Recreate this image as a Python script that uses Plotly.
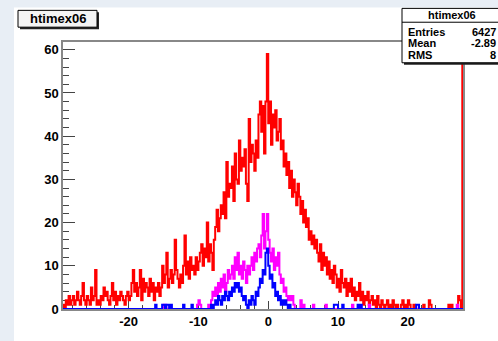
import numpy as np
import plotly.graph_objects as go

# ---- histogram definition -------------------------------------------------
X_MIN = -29.4
BIN_WIDTH = 0.2

# red histogram (all events), 287 bins
RED_COUNTS = [
    1, 0, 2, 1, 3, 1, 2, 3, 1, 2,
    4, 2, 1, 3, 6, 2, 1, 3, 2, 1,
    5, 2, 3, 9, 1, 2, 1, 3, 2, 5,
    3, 4, 2, 1, 3, 6, 2, 4, 1, 3,
    2, 4, 3, 2, 1, 3, 4, 2, 3, 6,
    9, 4, 6, 3, 5, 9, 2, 7, 4, 6,
    5, 3, 7, 4, 6, 2, 5, 4, 6, 3,
    5, 10, 6, 8, 13, 5, 7, 9, 6, 8,
    16, 9, 7, 5, 8, 6, 10, 17, 8, 11,
    7, 12, 9, 10, 8, 12, 9, 11, 13, 15,
    10, 14, 12, 20, 11, 15, 13, 9, 16, 19,
    23, 18, 21, 24, 22, 27, 21, 34, 26, 29,
    28, 33, 25, 36, 30, 29, 39, 32, 35, 33,
    37, 29, 25, 44, 34, 38, 36, 32, 39, 35,
    45, 48, 41, 47, 36, 48, 59, 43, 48, 38,
    45, 42, 46, 39, 41, 44, 37, 39, 33, 36,
    31, 34, 28, 32, 26, 30, 27, 24, 29, 26,
    22, 25, 20, 23, 19, 21, 16, 18, 15, 17,
    14, 16, 13, 11, 15, 9, 13, 10, 12, 8,
    11, 7, 9, 6, 10, 8, 5, 7, 4, 9,
    6, 5, 7, 3, 6, 4, 7, 3, 5, 2,
    4, 3, 6, 2, 4, 1, 3, 2, 4, 1,
    2, 3, 1, 2, 0, 3, 1, 0, 2, 1,
    0, 1, 2, 0, 1, 0, 2, 1, 0, 1,
    0, 0, 1, 2, 0, 1, 0, 2, 1, 0,
    0, 1, 0, 0, 0, 0, 0, 0, 1, 0,
    0, 0, 2, 1, 0, 0, 0, 0, 0, 0,
    0, 0, 0, 0, 0, 0, 1, 0, 1, 0,
    0, 0, 0, 3, 2, 0, 300,
]

MAGENTA_COUNTS = [
    0, 0, 0, 0, 0, 0, 0, 0, 0, 0,
    0, 0, 0, 0, 0, 0, 0, 0, 0, 0,
    0, 0, 0, 0, 0, 0, 0, 0, 0, 0,
    0, 0, 0, 0, 0, 0, 0, 0, 0, 0,
    0, 0, 0, 0, 0, 0, 0, 0, 0, 0,
    0, 0, 0, 0, 0, 0, 0, 0, 0, 0,
    0, 0, 0, 0, 0, 0, 0, 0, 0, 0,
    0, 0, 1, 1, 0, 0, 0, 0, 0, 0,
    0, 0, 0, 0, 0, 0, 0, 0, 0, 0,
    0, 0, 0, 0, 0, 0, 1, 2, 1, 0,
    0, 0, 0, 0, 1, 0, 2, 4, 3, 5,
    3, 6, 4, 7, 5, 8, 4, 6, 9, 7,
    8, 10, 7, 12, 9, 13, 8, 10, 7, 11,
    9, 6, 10, 8, 10, 12, 9, 13, 11, 14,
    15, 12, 17, 22, 14, 18, 22, 16, 13, 11,
    14, 9, 12, 10, 13, 8, 6, 7, 4, 5,
    3, 2, 3, 2, 3, 1, 0, 0, 0, 0,
    2, 0, 1, 0, 0, 0, 0, 0, 0, 1,
    0, 0, 0, 0, 0, 0, 0, 0, 1, 0,
    0, 0, 0, 0, 0, 0, 0, 0, 0, 0,
    0, 0, 0, 0, 0, 0, 0, 1, 0, 0,
    0, 0, 0, 0, 0, 0, 0, 0, 0, 1,
    0, 0, 0, 0, 0, 0, 0, 0, 0, 0,
    0, 0, 0, 0, 0, 0, 0, 0, 0, 0,
    0, 0, 0, 0, 0, 0, 0, 0, 0, 0,
    0, 0, 0, 0, 0, 0, 0, 0, 0, 0,
    0, 0, 0, 0, 0, 0, 0, 0, 0, 0,
    0, 0, 0, 0, 0, 0, 0, 0, 0, 0,
    0, 0, 1, 0, 0, 0, 0,
]

BLUE_COUNTS = [
    0, 0, 0, 0, 0, 0, 0, 0, 0, 0,
    0, 0, 0, 0, 0, 0, 0, 0, 0, 0,
    0, 0, 0, 0, 0, 0, 0, 0, 0, 0,
    0, 0, 0, 0, 0, 0, 0, 0, 0, 0,
    0, 0, 0, 0, 0, 0, 0, 0, 0, 0,
    0, 0, 0, 0, 0, 0, 0, 0, 0, 0,
    0, 0, 0, 0, 0, 0, 1, 0, 0, 0,
    0, 1, 1, 0, 1, 1, 0, 1, 0, 0,
    0, 0, 0, 0, 0, 0, 1, 0, 0, 0,
    0, 0, 1, 0, 0, 0, 0, 0, 0, 0,
    0, 0, 0, 0, 0, 0, 1, 0, 1, 2,
    1, 3, 2, 1, 3, 2, 4, 3, 2, 4,
    3, 5, 4, 6, 5, 6, 4, 5, 3, 2,
    3, 1, 0, 2, 1, 3, 2, 1, 4, 3,
    5, 7, 6, 9, 8, 13, 14, 10, 7, 8,
    5, 6, 3, 4, 2, 3, 1, 2, 1, 2,
    1, 0, 1, 0, 0, 0, 0, 0, 0, 0,
    0, 0, 0, 0, 0, 0, 0, 0, 0, 0,
    0, 0, 0, 0, 0, 0, 0, 0, 0, 0,
    0, 0, 0, 0, 1, 1, 1, 0, 0, 0,
    1, 0, 0, 0, 0, 0, 0, 0, 0, 0,
    0, 1, 0, 1, 0, 0, 0, 0, 0, 0,
    0, 0, 0, 0, 0, 0, 0, 0, 0, 0,
    0, 0, 0, 0, 0, 0, 0, 0, 0, 0,
    0, 0, 0, 0, 0, 0, 0, 0, 0, 0,
    0, 0, 0, 1, 1, 0, 0, 0, 0, 0,
    0, 0, 0, 0, 0, 0, 0, 0, 0, 0,
    0, 0, 0, 0, 0, 0, 0, 0, 0, 0,
    0, 0, 0, 0, 0, 0, 0,
]

X_TICKS = [-20, -10, 0, 10, 20]
Y_TICKS = [0, 10, 20, 30, 40, 50, 60]
X_RANGE = [-29.4, 27.9]
Y_RANGE = [0, 61.8]

TITLE = "htimex06"
STAT_LABELS = ["Entries", "Mean", "RMS"]
STAT_VALUES = ["6427", "-2.89", "8"]

# ---- figure ---------------------------------------------------------------
W, H = 498, 341
ML, MR, MT, MB = 63, 35, 42, 29
PW, PH = W - ML - MR, H - MT - MB


def px(x):
    return (x - ML) / PW


def py(y):
    return (H - MB - y) / PH


def step_trace(counts, color):
    n = len(counts)
    edges = X_MIN + BIN_WIDTH * np.arange(n + 1)
    xs = np.concatenate([[edges[0]], edges])
    ys = np.concatenate([[0], counts, [counts[-1]]])
    return go.Scatter(x=xs, y=ys, mode="lines", line=dict(color=color, width=2, shape="hv"),
                      hoverinfo="skip", showlegend=False)


fig = go.Figure()
fig.add_trace(step_trace(RED_COUNTS, "#ff0000"))
fig.add_trace(step_trace(MAGENTA_COUNTS, "#ff00ff"))
fig.add_trace(step_trace(BLUE_COUNTS, "#0000ff"))

font_b = dict(family="Liberation Sans, Arial, sans-serif", size=13, color="black", weight="bold")

fig.update_layout(
    width=W, height=H,
    margin=dict(l=ML, r=MR, t=MT, b=MB, pad=0),
    paper_bgcolor="#e8eef5",
    plot_bgcolor="white",
    showlegend=False,
    xaxis=dict(range=X_RANGE, tickvals=X_TICKS, ticktext=[str(v) for v in X_TICKS],
               ticks="inside", ticklen=8, tickwidth=1, tickcolor="#444",
               minor=dict(dtick=2, tick0=0, ticks="inside", ticklen=4, tickcolor="#444", showgrid=False),
               showgrid=False, zeroline=False, showline=True, linecolor="#888", linewidth=1.5, mirror=True,
               tickfont=font_b, layer="below traces"),
    yaxis=dict(range=Y_RANGE, tickvals=Y_TICKS, ticktext=[str(v) for v in Y_TICKS],
               ticks="inside", ticklen=12, tickwidth=1, tickcolor="#444",
               minor=dict(dtick=2, tick0=0, ticks="inside", ticklen=6, tickcolor="#444", showgrid=False),
               showgrid=False, zeroline=False, showline=True, linecolor="#888", linewidth=1.5, mirror=True,
               tickfont=font_b, layer="below traces"),
)

shapes = []
# white canvas area
shapes.append(dict(type="rect", xref="paper", yref="paper", x0=px(14), x1=px(520), y0=py(360), y1=py(7),
                   fillcolor="white", line=dict(width=0), layer="below"))
# title box shadow + box
shapes.append(dict(type="rect", xref="paper", yref="paper", x0=px(20), x1=px(99), y0=py(29), y1=py(12),
                   fillcolor="#222", line=dict(width=0), layer="above"))
shapes.append(dict(type="rect", xref="paper", yref="paper", x0=px(18), x1=px(97), y0=py(27), y1=py(10),
                   fillcolor="#f4f4f4", line=dict(color="black", width=1), layer="above"))
# stats box shadow + box
shapes.append(dict(type="rect", xref="paper", yref="paper", x0=px(404), x1=px(530), y0=py(65), y1=py(10),
                   fillcolor="#222", line=dict(width=0), layer="above"))
shapes.append(dict(type="rect", xref="paper", yref="paper", x0=px(402), x1=px(528), y0=py(63), y1=py(8),
                   fillcolor="white", line=dict(color="black", width=1), layer="above"))
shapes.append(dict(type="line", xref="paper", yref="paper", x0=px(402), x1=px(528), y0=py(22), y1=py(22),
                   line=dict(color="black", width=1), layer="above"))
fig.update_layout(shapes=shapes)

annotations = []
annotations.append(dict(text=TITLE, xref="paper", yref="paper", x=px(57.5), y=py(18.5),
                        xanchor="center", yanchor="middle", showarrow=False,
                        font=dict(family="Liberation Sans, Arial, sans-serif", size=13, color="black", weight="bold")))
annotations.append(dict(text=TITLE, xref="paper", yref="paper", x=px(452), y=py(15),
                        xanchor="center", yanchor="middle", showarrow=False,
                        font=dict(family="Liberation Sans, Arial, sans-serif", size=11, color="black", weight="bold")))
row_y = [31.5, 43.5, 55]
for lab, val, ry in zip(STAT_LABELS, STAT_VALUES, row_y):
    annotations.append(dict(text=lab, xref="paper", yref="paper", x=px(406), y=py(ry),
                            xanchor="left", yanchor="middle", showarrow=False,
                            font=dict(family="Liberation Sans, Arial, sans-serif", size=11, color="black", weight="bold")))
    annotations.append(dict(text=val, xref="paper", yref="paper", x=px(498), y=py(ry),
                            xanchor="right", yanchor="middle", showarrow=False,
                            font=dict(family="Liberation Sans, Arial, sans-serif", size=11, color="black", weight="bold")))
fig.update_layout(annotations=annotations)

fig.write_html("out.html")
